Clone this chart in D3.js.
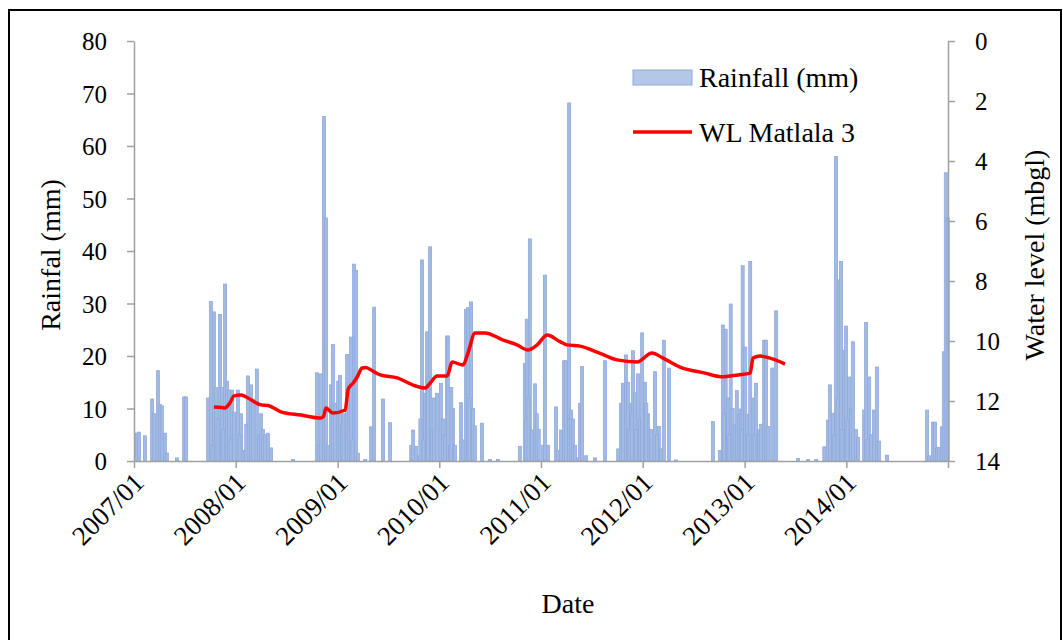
<!DOCTYPE html>
<html lang="en">
<head>
    <meta charset="UTF-8">
    <title>Rainfall and water level</title>
    <script src="https://cdn.jsdelivr.net/npm/d3@7"></script>
    <style>
        body { margin: 0; background: #fff; }
        text { font-family: "Liberation Serif", "Times New Roman", serif; fill: #000; }
    </style>
</head>
<body>

<script>

    // daily rainfall events (mm)
    var rainDates = [
        "2007-01-12","2007-01-19","2007-02-09","2007-03-07","2007-03-14","2007-03-28","2007-04-04","2007-04-11","2007-04-22","2007-04-29",
        "2007-06-04","2007-06-30","2007-07-07","2007-09-24","2007-10-04","2007-10-15","2007-10-22","2007-11-06","2007-11-13","2007-11-24",
        "2007-12-01","2007-12-08","2007-12-19","2007-12-26",
        "2008-01-09","2008-01-20","2008-02-03","2008-02-14","2008-02-25","2008-03-03","2008-03-17","2008-03-24","2008-04-01","2008-04-08",
        "2008-04-15","2008-04-26","2008-05-07","2008-07-25","2008-10-19","2008-10-26","2008-11-02","2008-11-13","2008-11-20","2008-11-27",
        "2008-12-08","2008-12-15","2008-12-22",
        "2009-01-03","2009-01-10","2009-01-17","2009-01-28","2009-02-04","2009-02-11","2009-02-18","2009-03-01","2009-03-08","2009-03-15",
        "2009-04-10","2009-05-01","2009-05-12","2009-06-13","2009-07-08","2009-09-22","2009-09-29","2009-10-10","2009-10-20","2009-10-31",
        "2009-11-11","2009-11-18","2009-11-29","2009-12-06","2009-12-13","2009-12-24",
        "2010-01-07","2010-01-14","2010-01-29","2010-02-01","2010-02-08","2010-02-19","2010-02-26","2010-03-20","2010-04-07","2010-04-14",
        "2010-04-25","2010-05-02","2010-05-09","2010-06-03","2010-07-02","2010-07-30","2010-10-17","2010-11-04","2010-11-11","2010-11-22",
        "2010-11-29","2010-12-10","2010-12-17","2010-12-24",
        "2011-01-08","2011-01-15","2011-01-26","2011-02-24","2011-03-03","2011-03-14","2011-03-25","2011-04-01","2011-04-12","2011-04-19",
        "2011-04-26","2011-05-03","2011-05-14","2011-05-21","2011-05-28","2011-06-12","2011-07-14","2011-08-19","2011-10-05","2011-10-15",
        "2011-10-22","2011-11-02","2011-11-09","2011-11-20","2011-11-27","2011-12-04","2011-12-15","2011-12-22","2011-12-30",
        "2012-01-09","2012-01-20","2012-01-31","2012-02-14","2012-02-28","2012-03-07","2012-03-17","2012-04-04","2012-04-29","2012-09-09",
        "2012-10-04","2012-10-15","2012-10-25","2012-11-02","2012-11-12","2012-11-19","2012-11-26","2012-12-04","2012-12-11","2012-12-18",
        "2012-12-25",
        "2013-01-03","2013-01-10","2013-01-21","2013-02-01","2013-02-11","2013-02-22","2013-03-01","2013-03-12","2013-03-19","2013-03-26",
        "2013-04-10","2013-04-24","2013-07-12","2013-08-17","2013-09-15","2013-10-14","2013-10-27","2013-11-03","2013-11-14","2013-11-25",
        "2013-12-06","2013-12-13","2013-12-23","2013-12-31",
        "2014-01-11","2014-01-18","2014-01-25","2014-02-05","2014-02-12","2014-03-06","2014-03-13","2014-03-24","2014-03-31","2014-04-10",
        "2014-04-21","2014-04-28","2014-05-27","2014-10-18","2014-10-25","2014-11-08","2014-11-15","2014-11-22","2014-11-29","2014-12-10",
        "2014-12-17","2014-12-24","2014-12-31",
        // smaller showers between the main events
        "2007-10-10","2007-10-28","2007-11-18","2007-12-14","2008-01-15","2008-02-08","2009-01-22","2009-02-23","2009-10-25","2009-11-05",
        "2009-11-22","2010-01-21","2010-02-13","2010-03-28","2010-04-19","2010-11-08","2010-11-17","2011-11-14","2011-11-23","2011-12-09",
        "2012-01-14","2012-02-21","2012-10-20","2012-11-07","2012-12-21","2013-01-14","2013-02-06","2013-11-19","2013-12-01","2013-12-18",
        "2014-01-05","2014-03-18"
    ];
    var rainValues = [
        5.3,5.5,4.8,11.8,9,17.2,10.8,10.5,5.3,1.5,
        0.6,12.2,12.2,12,30.4,28.4,14,27.9,14,33.7,
        15.2,13.5,13.5,9.3,
        13.5,9,2,16.2,14.5,11.8,17.5,5,9,6,
        5,5.3,2.5,0.3,16.8,3,16.6,65.6,46.3,3,
        14.5,22.2,11,
        15.2,16.3,7,6.5,20.3,15,23.6,37.5,36.3,1.5,
        0.3,6.5,29.3,11.8,7.3,3,5.9,2.8,1,38.3,
        12.9,24.6,40.8,5.9,12,12.9,
        14.8,8,23.8,23.8,3,10,3,11.1,28.9,29.2,
        30.3,10,6.7,7.2,0.3,0.3,2.8,18.6,27,42.3,
        5.9,14.7,9,6,
        3,35.4,3,10.3,2,5.9,19.1,19.1,68.2,9.7,
        8,3,0.6,11,18,1,0.6,19.1,2.3,11,
        14.8,20.2,15,11,21,13,16.6,8,24.4,
        15,9,6,17,6.6,2.3,23,17.7,0.2,7.5,
        2,25.9,25.1,12,29.9,10,7,13.4,8.9,9.9,
        37.2,
        21.7,8.9,38,12,14.8,6,7,23,23,6.6,
        17.7,28.6,0.5,0.3,0.3,2.7,7.8,14.5,9.1,58,
        34.5,38,21.1,25.7,
        16,10,22.7,6,4.5,9.7,26.4,16,5,9.7,
        17.9,3.8,1.1,9.7,1,7.4,7.4,2.5,2.6,6.5,
        20.8,54.9,46.3,
        3,8,6,4,5,7,9,4,8,4,
        16,5,14,4,12,8,12,6,9,6,
        11,5,9,5,6,5,5,5,12,6,
        8,4
    ];

    // water level WL Matlala 3 (mbgl)
    var wlDates = [
        "2007-10-15","2007-11-12","2007-11-23","2007-12-11","2007-12-26","2008-01-20","2008-02-14","2008-04-01","2008-04-26","2008-06-11",
        "2008-08-22","2008-11-02","2008-11-12","2008-11-20","2008-12-15","2009-01-28","2009-02-08","2009-02-26","2009-03-12","2009-03-30",
        "2009-04-13","2009-04-28","2009-06-03","2009-08-03","2009-09-29","2009-11-11","2009-11-29","2009-12-24","2010-01-29","2010-02-16",
        "2010-03-27","2010-04-14","2010-05-09","2010-06-14","2010-08-18","2010-10-07","2010-11-15","2010-12-18","2011-01-23","2011-03-10",
        "2011-04-04","2011-05-21","2011-07-21","2011-10-01","2011-12-12","2012-02-03","2012-03-14","2012-05-14","2012-08-12","2012-10-08",
        "2012-12-08","2013-01-21","2013-01-31","2013-02-26","2013-03-16","2013-04-21","2013-05-26"
    ];
    var wlValues = [
        12.2,12.22,12.23,12.07,11.83,11.8,11.9,12.13,12.15,12.36,
        12.47,12.57,12.5,12.23,12.4,12.3,11.6,11.4,11.2,10.9,
        10.88,10.95,11.13,11.23,11.47,11.57,11.4,11.17,11.17,10.7,
        10.8,10.4,9.73,9.73,9.97,10.13,10.3,10.13,9.8,10.02,
        10.13,10.17,10.37,10.63,10.7,10.4,10.57,10.87,11.07,11.19,
        11.13,11.07,10.57,10.5,10.53,10.63,10.77
    ];

    var rainTicks = [0, 10, 20, 30, 40, 50, 60, 70, 80];
    var wlTicks = [0, 2, 4, 6, 8, 10, 12, 14];
    var yearTicks = ["2007-01-01","2008-01-01","2009-01-01","2010-01-01","2011-01-01","2012-01-01","2013-01-01","2014-01-01","2015-01-01"];

    var parse = d3.timeParse("%Y-%m-%d");
    var fmt = d3.timeFormat("%Y/%m");

    var rain = rainDates.map(function (d, i) { return {date: parse(d), value: rainValues[i]}; });
    var wl = wlDates.map(function (d, i) { return {date: parse(d), value: wlValues[i]}; });

    var W = 1063, H = 640;
    var plot = {left: 134, right: 948, top: 41, bottom: 461};

    var svg = d3.select("body").append("svg")
            .attr("width", W)
            .attr("height", H);

    // outer frame
    svg.append("rect")
            .attr("x", 9).attr("y", 10)
            .attr("width", 1052).attr("height", 640)
            .attr("fill", "none")
            .attr("stroke", "#000")
            .attr("stroke-width", 2);

    var x = d3.scaleTime()
            .domain([parse("2007-01-01"), parse("2015-01-01")])
            .range([plot.left, plot.right]);
    var yRain = d3.scaleLinear().domain([0, 80]).range([plot.bottom, plot.top]);
    var yWl = d3.scaleLinear().domain([0, 14]).range([plot.top, plot.bottom]);

    // rainfall bars
    svg.append("g")
            .selectAll("rect")
            .data(rain)
            .enter()
            .append("rect")
            .attr("x", function (d) { return x(d.date) - 1.5; })
            .attr("y", function (d) { return yRain(d.value); })
            .attr("width", 3)
            .attr("height", function (d) { return yRain(0) - yRain(d.value); })
            .attr("fill", "#a3bbe4")
            .attr("stroke", "#8eaadb")
            .attr("stroke-width", 0.8);

    // water level line
    var line = d3.line()
            .x(function (d) { return x(d.date); })
            .y(function (d) { return yWl(d.value); })
            .curve(d3.curveMonotoneX);

    svg.append("path")
            .datum(wl)
            .attr("d", line)
            .attr("fill", "none")
            .attr("stroke", "#ff0000")
            .attr("stroke-width", 3.5)
            .attr("stroke-linejoin", "round");

    // axes
    var axisColor = "#a0a0a0";

    var xAxis = d3.axisBottom(x)
            .tickValues(yearTicks.map(parse))
            .tickSizeInner(7)
            .tickSizeOuter(0)
            .tickFormat(function (d) { return d.getFullYear() < 2015 ? fmt(d) : ""; });

    var gx = svg.append("g")
            .attr("transform", "translate(0," + plot.bottom + ")")
            .call(xAxis);
    gx.selectAll("text")
            .style("font-size", "27px")
            .attr("text-anchor", "end")
            .attr("dx", 0).attr("dy", 0)
            .attr("transform", "translate(4,16) rotate(-45)");

    var gl = svg.append("g")
            .attr("transform", "translate(" + plot.left + ",0)")
            .call(d3.axisLeft(yRain).tickValues(rainTicks).tickSizeInner(7).tickSizeOuter(0).tickPadding(20));
    gl.selectAll("text").style("font-size", "25px").attr("dy", "0.34em");

    var gr = svg.append("g")
            .attr("transform", "translate(" + plot.right + ",0)")
            .call(d3.axisRight(yWl).tickValues(wlTicks).tickSizeInner(7).tickSizeOuter(0).tickPadding(20));
    gr.selectAll("text").style("font-size", "25px").attr("dy", "0.34em");

    svg.selectAll(".domain, .tick line")
            .attr("stroke", axisColor)
            .attr("stroke-width", 1.5);

    // axis titles
    svg.append("text")
            .attr("transform", "translate(60,255) rotate(-90)")
            .attr("text-anchor", "middle")
            .style("font-size", "28px")
            .text("Rainfal (mm)");

    svg.append("text")
            .attr("transform", "translate(1044,255) rotate(-90)")
            .attr("text-anchor", "middle")
            .style("font-size", "28px")
            .text("Water level (mbgl)");

    svg.append("text")
            .attr("x", 568).attr("y", 613)
            .attr("text-anchor", "middle")
            .style("font-size", "28px")
            .text("Date");

    // legend
    var legend = svg.append("g").attr("transform", "translate(633,0)");
    legend.append("rect")
            .attr("x", 0).attr("y", 70)
            .attr("width", 59).attr("height", 15)
            .attr("fill", "#b4c7e7")
            .attr("stroke", "#8eaadb")
            .attr("stroke-width", 1);
    legend.append("text")
            .attr("x", 66).attr("y", 87)
            .style("font-size", "28px")
            .text("Rainfall (mm)");
    legend.append("line")
            .attr("x1", 0).attr("x2", 59)
            .attr("y1", 132).attr("y2", 132)
            .attr("stroke", "#ff0000")
            .attr("stroke-width", 3.5);
    legend.append("text")
            .attr("x", 66).attr("y", 142)
            .style("font-size", "28px")
            .text("WL Matlala 3");

</script>

</body>
</html>
